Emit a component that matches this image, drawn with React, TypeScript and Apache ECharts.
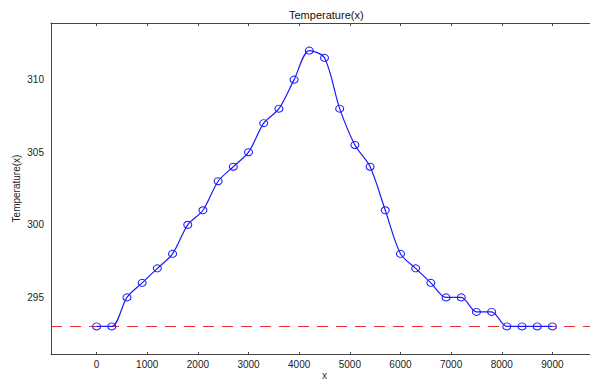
import React, { useEffect, useRef } from "react";
import * as echarts from "echarts";

const xValues = [0, 300, 600, 900, 1200, 1500, 1800, 2100, 2400, 2700, 3000, 3300, 3600, 3900, 4200, 4500, 4800, 5100, 5400, 5700, 6000, 6300, 6600, 6900, 7200, 7500, 7800, 8100, 8400, 8700, 9000];
const temperature = [293, 293, 295, 296, 297, 298, 300, 301, 303, 304, 305, 307, 308, 310, 312, 311.5, 308, 305.5, 304, 301, 298, 297, 296, 295, 295, 294, 294, 293, 293, 293, 293];
const xTicks = [0, 1000, 2000, 3000, 4000, 5000, 6000, 7000, 8000, 9000];
const yTicks = [295, 300, 305, 310];
const baseline = 293;

const FONT = "'Liberation Sans', Arial, sans-serif";

export default function App() {
  const ref = useRef<HTMLDivElement>(null);
  useEffect(() => {
    if (!ref.current) return;
    const chart = echarts.init(ref.current, null, { renderer: "svg" });
    const axisLine = { show: true, onZero: false, lineStyle: { color: "#444", width: 1 } };
    const redDash = { color: "#e83030", type: [11, 8], width: 1 };
    chart.setOption({
      animation: false,
      backgroundColor: "#fff",
      title: {
        text: "Temperature(x)",
        left: 284,
        top: 4,
        textStyle: { fontSize: 11, fontWeight: "normal", color: "#111", fontFamily: FONT },
      },
      grid: { left: 51, top: 23, width: 547, height: 331, outerBoundsMode: "none", containLabel: false },
      xAxis: [
        {
          type: "value",
          position: "bottom",
          min: -900,
          max: 9900,
          name: "x",
          nameLocation: "middle",
          nameGap: 16,
          nameMoveOverlap: false,
          nameTextStyle: { fontSize: 10, color: "#333", fontFamily: FONT },
          axisLine,
          splitLine: { show: false },
          axisTick: { show: true, inside: true, length: 2, customValues: xTicks, lineStyle: { color: "#444" } },
          axisLabel: { customValues: xTicks, formatter: (v: number) => String(v), fontSize: 10, color: "#222", margin: 5, fontFamily: FONT },
        },
        {
          type: "value",
          position: "top",
          min: -900,
          max: 9900,
          axisLine,
          splitLine: { show: false },
          axisTick: { show: true, inside: true, length: 3, customValues: xTicks, lineStyle: { color: "#444" } },
          axisLabel: { show: false },
        },
      ],
      yAxis: {
        type: "value",
        min: 291.1,
        max: 313.9,
        name: "Temperature(x)",
        nameLocation: "middle",
        nameGap: 30,
        nameMoveOverlap: false,
        nameTextStyle: { fontSize: 10, color: "#222", fontFamily: FONT },
        axisLine,
        splitLine: { show: false },
        axisTick: { show: false },
        axisLabel: { customValues: yTicks, formatter: (v: number) => String(v), fontSize: 10, color: "#222", margin: 7, fontFamily: FONT },
      },
      series: [
        {
          type: "line",
          data: xValues.map((x, i) => [x, temperature[i]]),
          smooth: 0.3,
          symbol: "circle",
          symbolSize: [8, 7],
          lineStyle: { color: "#1a1aff", width: 1.2 },
          itemStyle: { color: "rgba(0,0,0,0)", borderColor: "#1a1aff", borderWidth: 1 },
          z: 3,
          markLine: {
            silent: true,
            symbol: "none",
            label: { show: false },
            lineStyle: redDash,
            data: [{ yAxis: baseline, lineStyle: redDash }],
            z: 1,
          },
        },
      ],
    });
    return () => chart.dispose();
  }, []);
  return <div ref={ref} style={{ position: "fixed", left: 0, top: 0, width: 590, height: 381 }} />;
}
